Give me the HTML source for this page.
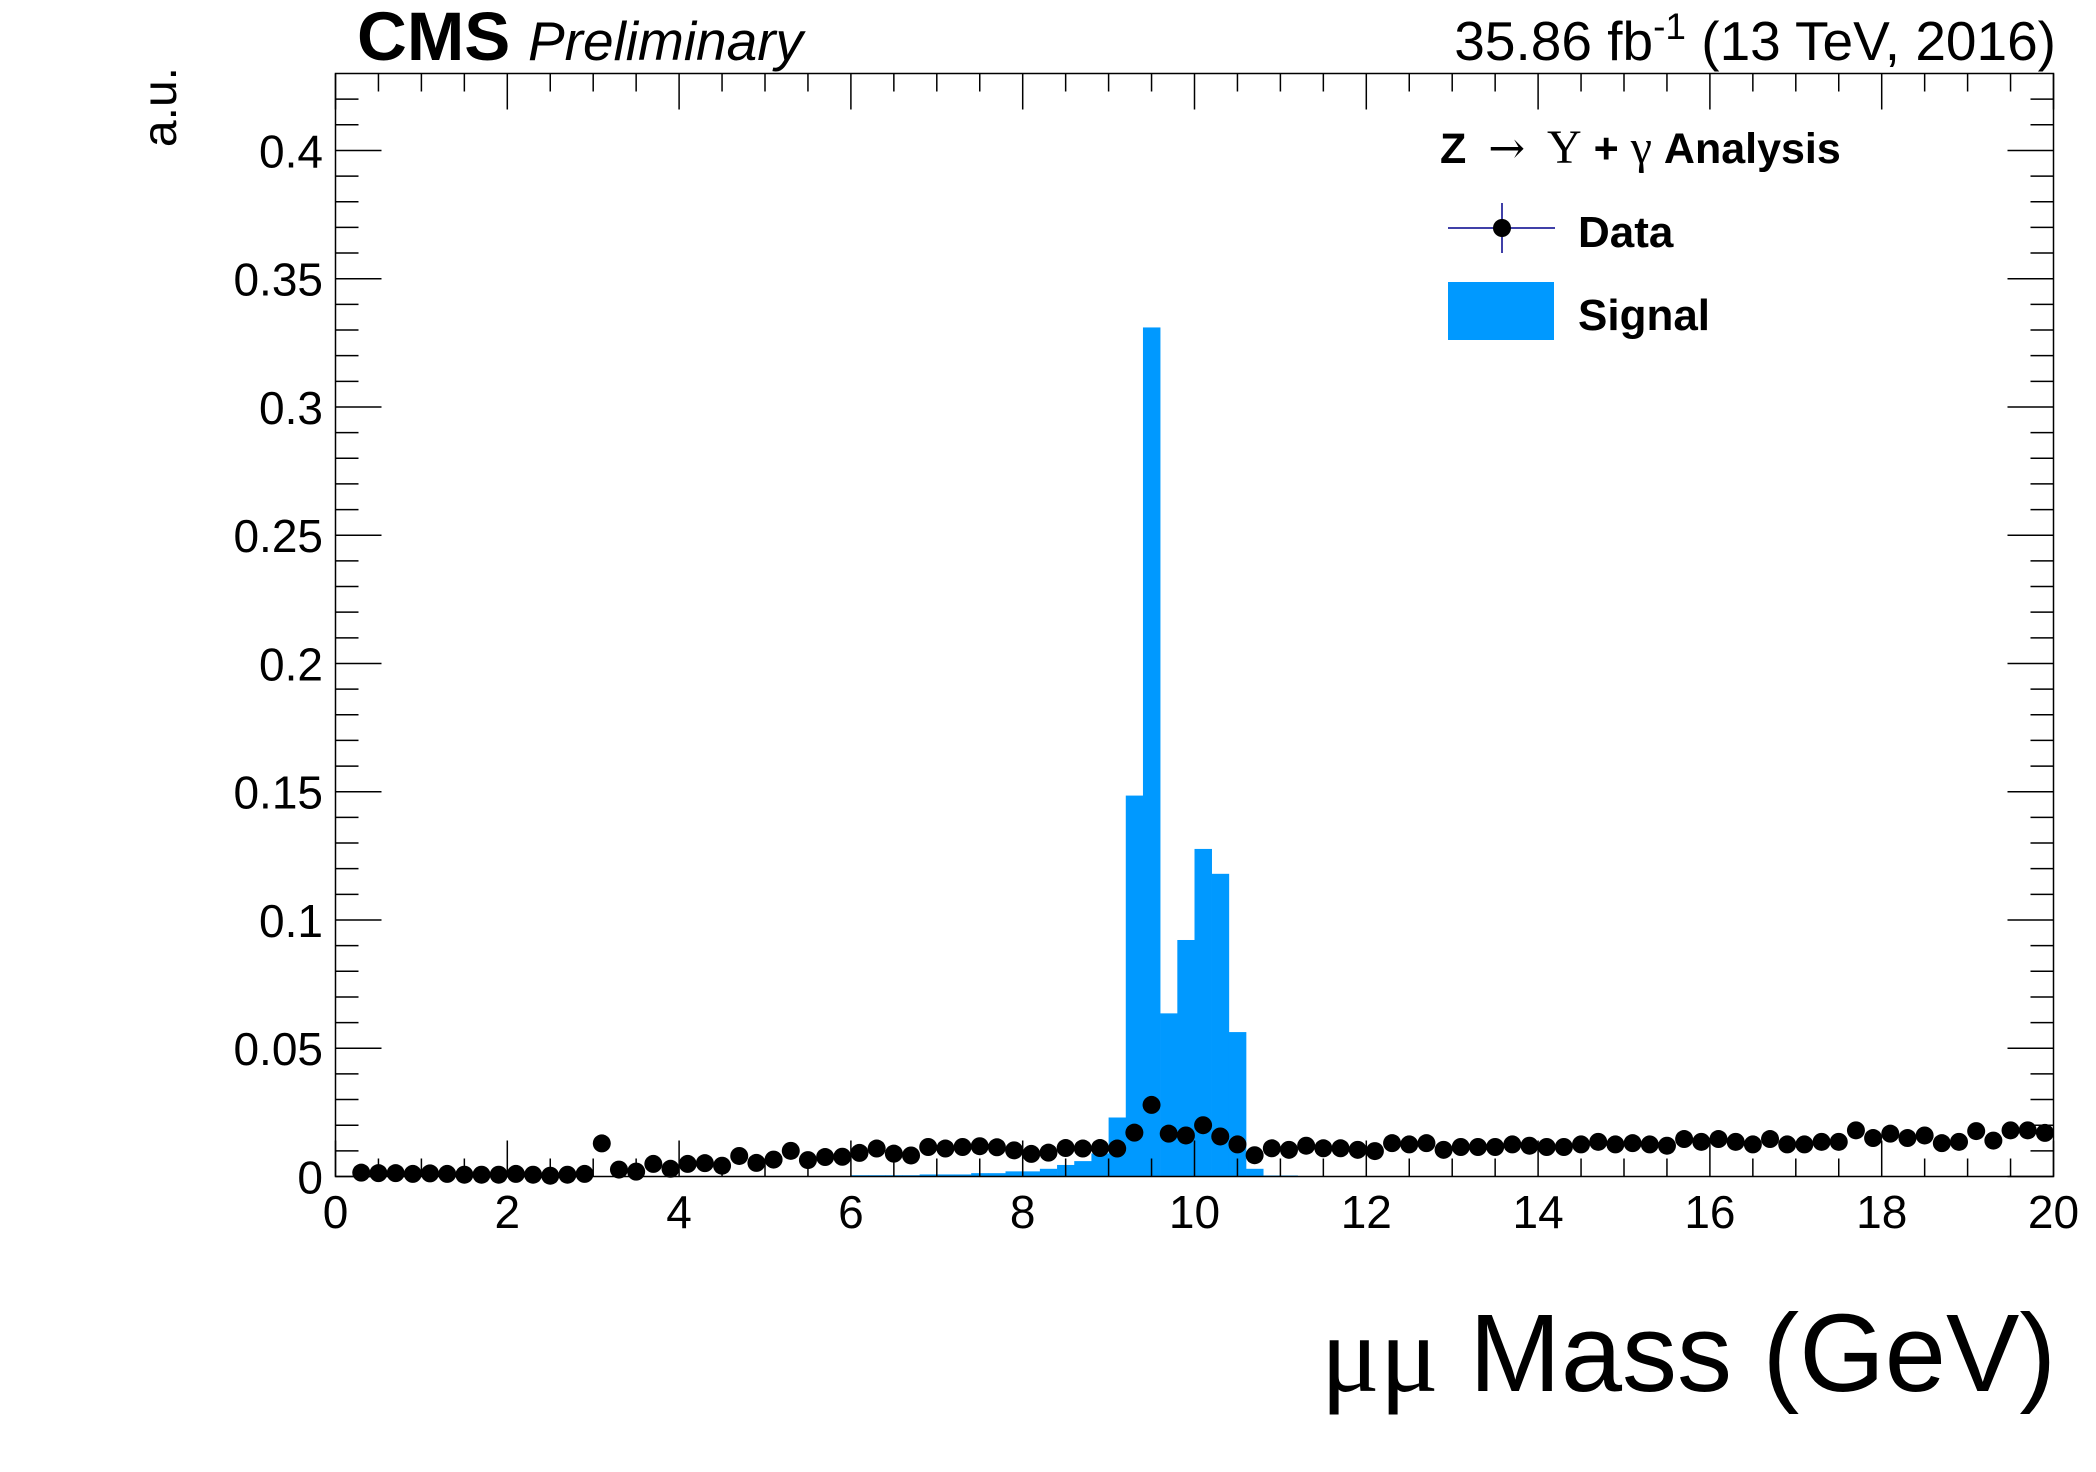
<!DOCTYPE html>
<html><head><meta charset="utf-8">
<style>
html,body{margin:0;padding:0;background:#fff;}
svg{display:block;font-family:"Liberation Sans",Arial,sans-serif;}
</style></head>
<body>
<svg id="chart" width="2096" height="1472" viewBox="0 0 2096 1472" xmlns="http://www.w3.org/2000/svg">
  <rect x="0" y="0" width="2096" height="1472" fill="#fff"/>
  <g id="signal-bars"></g>
  <g id="data-points"></g>
  <g id="axes"></g>
  <text x="357" y="60" font-size="69" font-weight="bold">CMS</text>
  <text x="528" y="60" font-size="55" font-style="italic">Preliminary</text>
  <text x="2056" y="60" font-size="55" text-anchor="end">35.86 fb<tspan dy="-21" font-size="37">-1</tspan><tspan dy="21"> (13 TeV, 2016)</tspan></text>
  <text transform="translate(176,67) rotate(-90)" font-size="48" text-anchor="end">a.u.</text>
  <text x="2056" y="1391" font-size="110" text-anchor="end"><tspan font-family="'Liberation Serif',serif">μμ</tspan> Mass (GeV)</text>
  <g>
    <text x="1440" y="163" font-size="43" font-weight="bold" xml:space="preserve">Z <tspan font-family="'DejaVu Serif','Liberation Serif',serif" font-weight="normal" font-size="44" dx="10">→</tspan> <tspan font-family="'Liberation Serif',serif" font-weight="normal" font-size="48" dx="10">Υ</tspan> + <tspan font-family="'Liberation Serif',serif" font-weight="normal" font-size="48">γ</tspan> Analysis</text>
    <g>
      <line x1="1448" y1="228" x2="1555" y2="228" stroke="#00008b" stroke-width="1.5"/>
      <line x1="1502" y1="203" x2="1502" y2="253" stroke="#00008b" stroke-width="1.5"/>
      <circle cx="1502" cy="228" r="9" fill="#000"/>
      <text x="1578" y="247" font-size="44" font-weight="bold">Data</text>
    </g>
    <g>
      <rect x="1448" y="282" width="106" height="58" fill="#0099ff"/>
      <text x="1578" y="330" font-size="44" font-weight="bold">Signal</text>
    </g>
  </g>
</svg>
<script>
const xTicks = [0,2,4,6,8,10,12,14,16,18,20];
const xTickLabels = ["0","2","4","6","8","10","12","14","16","18","20"];
const yTicks = [0,0.05,0.1,0.15,0.2,0.25,0.3,0.35,0.4];
const yTickLabels = ["0","0.05","0.1","0.15","0.2","0.25","0.3","0.35","0.4"];
const dataCenters = [0.3,0.5,0.7,0.9,1.1,1.3,1.5,1.7,1.9,2.1,2.3,2.5,2.7,2.9,3.1,3.3,3.5,3.7,3.9,4.1,4.3,4.5,4.7,4.9,5.1,5.3,5.5,5.7,5.9,6.1,6.3,6.5,6.7,6.9,7.1,7.3,7.5,7.7,7.9,8.1,8.3,8.5,8.7,8.9,9.1,9.3,9.5,9.7,9.9,10.1,10.3,10.5,10.7,10.9,11.1,11.3,11.5,11.7,11.9,12.1,12.3,12.5,12.7,12.9,13.1,13.3,13.5,13.7,13.9,14.1,14.3,14.5,14.7,14.9,15.1,15.3,15.5,15.7,15.9,16.1,16.3,16.5,16.7,16.9,17.1,17.3,17.5,17.7,17.9,18.1,18.3,18.5,18.7,18.9,19.1,19.3,19.5,19.7,19.9];
const dataValues = [0.0015,0.0013,0.0013,0.001,0.0012,0.001,0.0007,0.0007,0.0007,0.001,0.0007,0.0003,0.0007,0.001,0.0129,0.0027,0.0019,0.0049,0.003,0.0049,0.0052,0.0042,0.008,0.0053,0.0066,0.010,0.0064,0.0076,0.0077,0.0092,0.0109,0.0089,0.0082,0.0115,0.0109,0.0115,0.0118,0.0114,0.0102,0.0088,0.0093,0.0111,0.0109,0.0111,0.0109,0.0171,0.0279,0.0167,0.016,0.020,0.0156,0.0125,0.0083,0.011,0.0104,0.012,0.011,0.011,0.0104,0.0099,0.013,0.0125,0.013,0.0104,0.0115,0.0115,0.0115,0.0125,0.012,0.0115,0.0115,0.0125,0.0135,0.0125,0.013,0.0125,0.012,0.0146,0.0135,0.0146,0.0135,0.0125,0.0146,0.0125,0.0125,0.0135,0.0135,0.018,0.015,0.0167,0.015,0.016,0.013,0.0135,0.0177,0.014,0.018,0.018,0.017];
const signalLow = [6.0,6.2,6.4,6.6,6.8,7.0,7.2,7.4,7.6,7.8,8.0,8.2,8.4,8.6,8.8,9.0,9.2,9.4,9.6,9.8,10.0,10.2,10.4,10.6,10.8,11.0];
const signalValues = [0.0005,0.0005,0.0005,0.0005,0.0008,0.0008,0.0008,0.0013,0.0013,0.002,0.002,0.003,0.0045,0.006,0.009,0.023,0.1485,0.331,0.0636,0.0922,0.1277,0.118,0.0563,0.003,0.0004,0.0004];
const binWidth = 0.2;

const X0=335.5, X1=2053.5, Y0=1176.5, Y1=73.5, XMIN=0, XMAX=20, YMIN=0, YMAX=0.43;
function xs(v){return X0+(v-XMIN)/(XMAX-XMIN)*(X1-X0);}
function ys(v){return Y0-(v-YMIN)/(YMAX-YMIN)*(Y0-Y1);}
const NS="http://www.w3.org/2000/svg";
function mk(tag,attrs,parent){const e=document.createElementNS(NS,tag);for(const k in attrs)e.setAttribute(k,attrs[k]);parent.appendChild(e);return e;}

const sg=document.getElementById('signal-bars');
signalLow.forEach((lo,i)=>{
  const x=xs(lo), w=xs(lo+binWidth)-x, y=ys(signalValues[i]);
  const r=mk('rect',{x:x,y:y,width:w+0.3,height:Y0-y,fill:'#0099ff'},sg);
  
  
});

const dg=document.getElementById('data-points');
dataCenters.forEach((c,i)=>{
  const cx=xs(c), cy=ys(dataValues[i]);
  const l=mk('line',{x1:xs(c-binWidth/2),y1:cy,x2:xs(c+binWidth/2),y2:cy,stroke:'#00008b','stroke-width':1.5},dg);
  
  
  const p=mk('circle',{cx:cx,cy:cy,r:9,fill:'#000'},dg);
  
  
});

const ag=document.getElementById('axes');
const frame=mk('rect',{x:X0,y:Y1,width:X1-X0,height:Y0-Y1,fill:'none',stroke:'#000','stroke-width':1.5},ag);


for(let v=0; v<=20.001; v+=0.5){
  const x=xs(v); const major=Math.abs(v/2-Math.round(v/2))<1e-6; const L=major?36:18;
  mk('line',{x1:x,y1:Y0,x2:x,y2:Y0-L,stroke:'#000','stroke-width':1.5},ag);
  mk('line',{x1:x,y1:Y1,x2:x,y2:Y1+L,stroke:'#000','stroke-width':1.5},ag);
}
for(let v=0; v<=0.43; v+=0.01){
  const y=ys(v); const major=Math.abs(v/0.05-Math.round(v/0.05))<1e-6; const L=major?46:23;
  mk('line',{x1:X0,y1:y,x2:X0+L,y2:y,stroke:'#000','stroke-width':1.5},ag);
  mk('line',{x1:X1,y1:y,x2:X1-L,y2:y,stroke:'#000','stroke-width':1.5},ag);
}
xTicks.forEach((v,i)=>{
  const t=mk('text',{x:xs(v),y:1228,'font-size':46,'text-anchor':'middle'},ag);
  t.textContent=xTickLabels[i];
  
  
});
yTicks.forEach((v,i)=>{
  const t=mk('text',{x:323,y:ys(v)+17,'font-size':46,'text-anchor':'end'},ag);
  t.textContent=yTickLabels[i];
  
  
});
</script>
</body></html>
